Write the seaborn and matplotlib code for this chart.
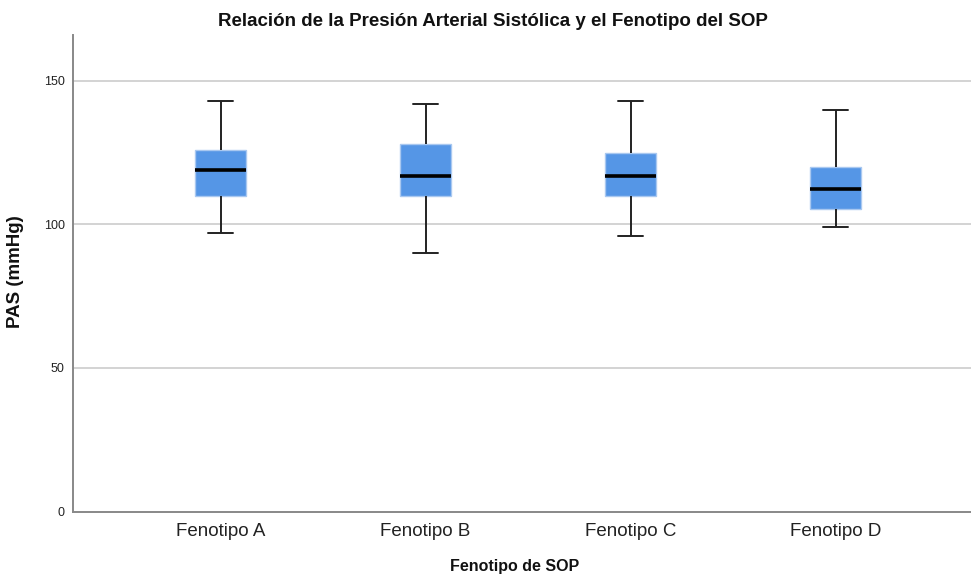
import numpy as np
import pandas as pd
import matplotlib
matplotlib.use("Agg")
import matplotlib.pyplot as plt
import seaborn as sns

# Five-number summaries per PCOS phenotype: min, Q1, median, Q3, max (mmHg)
categories = ["Fenotipo A", "Fenotipo B", "Fenotipo C", "Fenotipo D"]
pas_min = [97, 90, 96, 99]
pas_q1 = [110, 110, 110, 105.5]
pas_median = [119, 117, 117, 112.5]
pas_q3 = [126, 128, 125, 120]
pas_max = [143, 142, 143, 140]
y_ticks = [0, 50, 100, 150]

rows = []
for cat, a, b, c, d, e in zip(categories, pas_min, pas_q1, pas_median, pas_q3, pas_max):
    for v in (a, b, c, d, e):
        rows.append({"Fenotipo de SOP": cat, "PAS (mmHg)": v})
df = pd.DataFrame(rows)

sns.set_theme(style="white")
plt.rcParams["font.family"] = ["Liberation Sans", "DejaVu Sans"]

fig = plt.figure(figsize=(9.71, 5.76), dpi=100)
ax = fig.add_axes([73 / 971, 1 - 511.5 / 576, 1 - 73 / 971, (511.5 - 35) / 576])

sns.boxplot(
    data=df, x="Fenotipo de SOP", y="PAS (mmHg)", order=categories,
    whis=(0, 100), width=0.25, color="#5596e6", saturation=1,
    linecolor="#a9c8f0", linewidth=1.0, fliersize=0,
    medianprops={"color": "black", "linewidth": 2.6},
    whiskerprops={"color": "#222222", "linewidth": 1.4},
    capprops={"color": "#222222", "linewidth": 1.4},
    capwidths=0.125,
    ax=ax,
)

ax.set_ylim(0, 166)
ax.set_xlim(-0.72, 3.66)
ax.set_yticks(y_ticks)
ax.set_yticklabels([str(t) for t in y_ticks], fontsize=9, color="#222222")
ax.tick_params(axis="x", labelsize=13.5, colors="#222222", length=0, pad=8)
ax.tick_params(axis="y", length=0, pad=6)
for t in y_ticks[1:]:
    ax.axhline(t, color="#cccccc", linewidth=1.2, zorder=0)

for side in ("top", "right"):
    ax.spines[side].set_visible(False)
for side in ("left", "bottom"):
    ax.spines[side].set_color("#888888")
    ax.spines[side].set_linewidth(1.4)

ax.set_xlabel("")
ax.set_ylabel("")
fig.text(16 / 971, 1 - 272 / 576, "PAS (mmHg)", rotation=90, ha="center", va="center",
         fontsize=13.5, fontweight="bold", color="#111111")
fig.text(515 / 971, 1 - 567 / 576, "Fenotipo de SOP", ha="center", va="center",
         fontsize=11.5, fontweight="bold", color="#111111")
fig.text(493 / 971, 1 - 21 / 576, "Relación de la Presión Arterial Sistólica y el Fenotipo del SOP",
         ha="center", va="center", fontsize=13.5, fontweight="bold", color="#111111")

fig.savefig("out.png", dpi=100, facecolor="white")
